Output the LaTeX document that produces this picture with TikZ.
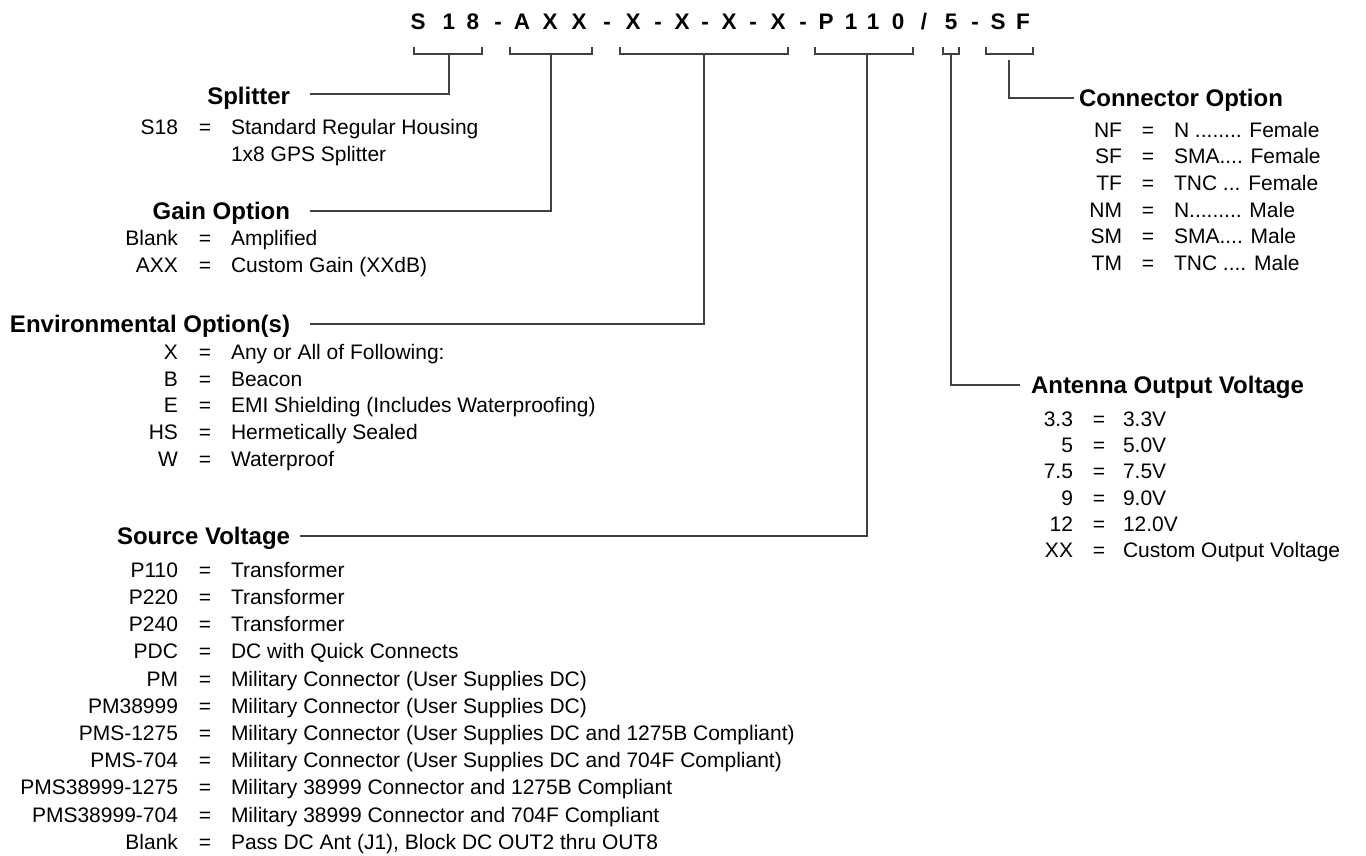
\documentclass[tikz,border=0pt]{standalone}
\usepackage{fontspec}
\setmainfont{Liberation Sans}
\begin{document}
\begin{tikzpicture}[x=1pt,y=-1pt,
  every node/.style={inner sep=0pt, outer sep=0pt},
  itemfont/.style={font=\fontsize{21}{24}\selectfont},
  key/.style={itemfont, anchor=base east},
  eqs/.style={itemfont, anchor=base},
  val/.style={itemfont, anchor=base west},
  ttl/.style={font=\bfseries\fontsize{24}{28}\selectfont},
  hdr/.style={anchor=base, font=\bfseries\fontsize{22.5}{26}\selectfont},
  conn/.style={draw=black!75, line width=1.3pt}]
\useasboundingbox (0,0) rectangle (1366,855);

% ---------- header code ----------
\foreach \c/\x [count=\i] in {S/418,1/449,8/473,-/498,A/522,X/550,X/579,-/607,X/633,-/658,X/682,-/705,X/729,-/753,X/778,-/803,P/826,1/851,1/873,0/898}
  \node[hdr] (h\i) at (\x,29) {\c};
\node[hdr] (h21) at (924,29) {/};
\foreach \c/\x [count=\i from 22] in {5/951,-/975,S/998,F/1023}
  \node[hdr] (h\i) at (\x,29) {\c};

% ---------- titles ----------
\node[ttl, anchor=base east] (tsplit) at (290,104) {Splitter};
\node[ttl, anchor=base east] (tgain)  at (290,219.5) {Gain Option};
\node[ttl, anchor=base east] (tenv)   at (290,332.5) {Environmental Option(s)};
\node[ttl, anchor=base east] (tsrc)   at (290,544.5) {Source Voltage};
\node[ttl, anchor=base west] (tcon)   at (1079,106.5) {Connector Option};
\node[ttl, anchor=base west] (tant)   at (1031,393.5) {Antenna Output Voltage};

% ---------- bracket coordinates ----------
\coordinate (b1) at (449,54);  \coordinate (e1) at (310,94);
\coordinate (b2) at (551,54);  \coordinate (e2) at (310,211);
\coordinate (b3) at (704,54);  \coordinate (e3) at (310,324);
\coordinate (b4) at (867,54);  \coordinate (e4) at (300,536);
\coordinate (b5) at (951,54);  \coordinate (e5) at (1020,385);
\coordinate (b6) at (1009,60); \coordinate (e6) at (1074,98);

% brackets
\draw[conn] (414,47) |- (482,54) -- (482,47);
\draw[conn] (510,47) |- (592,54) -- (592,47);
\draw[conn] (620,47) |- (788,54) -- (788,47);
\draw[conn] (815,47) |- (913,54) -- (913,47);
\draw[conn] (943,47) |- (959,54) -- (959,47);
\draw[conn] (986,47) |- (1033,54) -- (1033,47);

% leader lines
\draw[conn] (b1) |- (e1);
\draw[conn] (b2) |- (e2);
\draw[conn] (b3) |- (e3);
\draw[conn] (b4) |- (e4);
\draw[conn] (b5) |- (e5);
\draw[conn] (b6) |- (e6);

% ---------- Splitter ----------
\node[key] (spk) at (178,134.3) {S18};
\node[eqs] (spe) at (205,134.3) {=};
\node[val] (spv) at (231,134.3) {Standard Regular Housing};
\node[val] (spv2) at (231,161.3) {1x8 GPS Splitter};

% ---------- Gain ----------
\foreach \k/\v [count=\i from 0] in {Blank/{Amplified},AXX/{Custom Gain (XXdB)}}{
  \node[key] (gk\i) at (178,245.3+27*\i) {\k};
  \node[eqs] (ge\i) at (205,245.3+27*\i) {=};
  \node[val] (gv\i) at (231,245.3+27*\i) {\v};
}

% ---------- Environmental ----------
\foreach \k/\v [count=\i from 0] in {X/{Any or All of Following:},B/{Beacon},E/{EMI Shielding (Includes Waterproofing)},HS/{Hermetically Sealed},W/{Waterproof}}{
  \node[key] (ek\i) at (178,359.3+26.7*\i) {\k};
  \node[eqs] (ee\i) at (205,359.3+26.7*\i) {=};
  \node[val] (ev\i) at (231,359.3+26.7*\i) {\v};
}

% ---------- Source Voltage ----------
\foreach \k/\v [count=\i from 0] in {
  P110/{Transformer},
  P220/{Transformer},
  P240/{Transformer},
  PDC/{DC with Quick Connects},
  PM/{Military Connector (User Supplies DC)},
  PM38999/{Military Connector (User Supplies DC)},
  PMS-1275/{Military Connector (User Supplies DC and 1275B Compliant)},
  PMS-704/{Military Connector (User Supplies DC and 704F Compliant)},
  PMS38999-1275/{Military 38999 Connector and 1275B Compliant},
  PMS38999-704/{Military 38999 Connector and 704F Compliant},
  Blank/{Pass DC Ant (J1), Block DC OUT2 thru OUT8}}{
  \node[key] (sk\i) at (178,577.3+27.2*\i) {\k};
  \node[eqs] (se\i) at (205,577.3+27.2*\i) {=};
  \node[val] (sv\i) at (231,577.3+27.2*\i) {\v};
}

% ---------- Connector Option ----------
\foreach \k/\v [count=\i from 0] in {
  NF/{N ........ Female},
  SF/{SMA.... Female},
  TF/{TNC ... Female},
  NM/{N......... Male},
  SM/{SMA.... Male},
  TM/{TNC .... Male}}{
  \node[key] (ck\i) at (1122,137.3+26.6*\i) {\k};
  \node[eqs] (ce\i) at (1148,137.3+26.6*\i) {=};
  \node[val] (cv\i) at (1174,137.3+26.6*\i) {\v};
}

% ---------- Antenna Output Voltage ----------
\foreach \k/\v [count=\i from 0] in {
  3.3/{3.3V},
  5/{5.0V},
  7.5/{7.5V},
  9/{9.0V},
  12/{12.0V},
  XX/{Custom Output Voltage}}{
  \node[key] (ak\i) at (1073,426.3+26.3*\i) {\k};
  \node[eqs] (ae\i) at (1099,426.3+26.3*\i) {=};
  \node[val] (av\i) at (1123,426.3+26.3*\i) {\v};
}
\end{tikzpicture}
\end{document}
